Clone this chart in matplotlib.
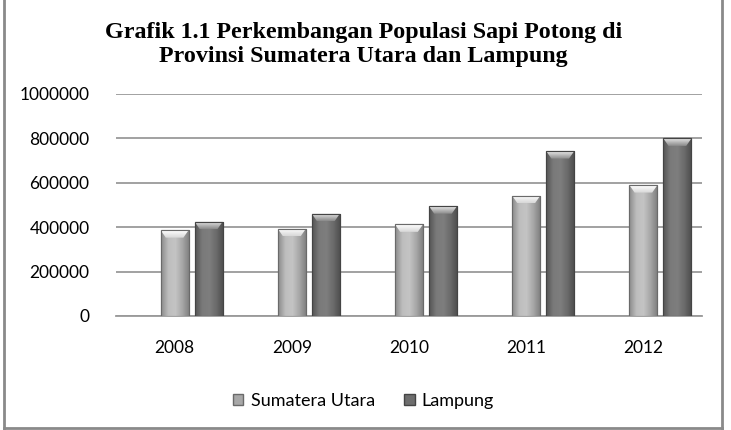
import numpy as np
import matplotlib.pyplot as plt
from matplotlib.colors import LinearSegmentedColormap
from matplotlib.patches import Polygon, Patch
from matplotlib.lines import Line2D

tahun = ['2008', '2009', '2010', '2011', '2012']
sumut = [387000, 393000, 413000, 542000, 590000]
lampung = [425000, 461000, 495000, 743000, 800000]
yticks = [0, 200000, 400000, 600000, 800000, 1000000]

fig = plt.figure(figsize=(7.31, 4.30), dpi=100)
ax = fig.add_axes([116 / 731, 1 - 316 / 430, 586 / 731, 222 / 430])

x = np.arange(len(tahun))
w = 0.24
gap = 0.29

# horizontal shading like the old excel bevel bars
cm_sumut = LinearSegmentedColormap.from_list('s', ['#8a8a8a', '#bdbdbd', '#c4c4c4', '#a6a6a6', '#7c7c7c'])
cm_lamp = LinearSegmentedColormap.from_list('l', ['#555555', '#7a7a7a', '#7e7e7e', '#6a6a6a', '#4c4c4c'])
cm_cap = LinearSegmentedColormap.from_list('c', ['#ffffff', '#d8d8d8'])
cm_cap2 = LinearSegmentedColormap.from_list('c2', ['#e8e8e8', '#8a8a8a'])
grad = np.linspace(0, 1, 64).reshape(1, -1)
vgrad = np.linspace(0, 1, 32).reshape(-1, 1)

b1 = ax.bar(x, sumut, w, color='#a8a8a8', edgecolor='#6a6a6a', linewidth=0.8, zorder=3)
b2 = ax.bar(x + gap, lampung, w, color='#6e6e6e', edgecolor='#444444', linewidth=0.8, zorder=3)

cap_h = 34000
cap_d = 0.045
for bars, cm, cc in [(b1, cm_sumut, cm_cap), (b2, cm_lamp, cm_cap2)]:
    for p in bars:
        x0, bw, h = p.get_x(), p.get_width(), p.get_height()
        im = ax.imshow(grad, extent=[x0, x0 + bw, 0, h], aspect='auto', cmap=cm, zorder=3.5)
        im.set_clip_path(p)
        cap = Polygon([[x0, h], [x0 + bw, h], [x0 + bw - cap_d, h - cap_h], [x0 + cap_d, h - cap_h]],
                      closed=True, facecolor='none', edgecolor='none', zorder=4)
        ax.add_patch(cap)
        im2 = ax.imshow(vgrad, extent=[x0, x0 + bw, h - cap_h, h], aspect='auto', cmap=cc, zorder=4)
        im2.set_clip_path(cap)
        ax.add_patch(Polygon([[x0, h], [x0 + bw, h], [x0 + bw, 0], [x0, 0]], closed=True,
                             facecolor='none', edgecolor=p.get_edgecolor(), linewidth=0.8, zorder=5))

ax.set_xlim(-0.5, 4.5)
ax.set_ylim(0, 1000000)
ax.set_yticks(yticks)
ax.set_yticklabels([str(v) for v in yticks], fontfamily='Lato', fontsize=12.5)
ax.set_xticks(x)
ax.set_xticklabels(tahun, fontfamily='Lato', fontsize=12.5)
ax.tick_params(axis='y', length=0, pad=19)
ax.tick_params(axis='x', length=0, pad=17)
ax.grid(axis='y', color='#9a9a9a', linewidth=1.3, zorder=1)
ax.set_axisbelow(True)
for s in ['top', 'right', 'left']:
    ax.spines[s].set_visible(False)
ax.spines['bottom'].set_color('#9a9a9a')
ax.spines['bottom'].set_linewidth(1.3)

fig.text(0.497, 0.897, 'Grafik 1.1 Perkembangan Populasi Sapi Potong di\nProvinsi Sumatera Utara dan Lampung',
         ha='center', va='center', fontfamily='Liberation Serif', fontweight='bold', fontsize=17.3,
         linespacing=1.22)

handles = [Patch(facecolor='#a8a8a8', edgecolor='#6a6a6a'), Patch(facecolor='#6e6e6e', edgecolor='#444444')]
fig.legend(handles, ['Sumatera Utara', 'Lampung'], loc='center', bbox_to_anchor=(0.497, 0.068), ncol=2,
           frameon=False, prop={'family': 'Lato', 'size': 13}, handlelength=0.6, handleheight=0.6,
           handletextpad=0.4, columnspacing=1.6)

# frame around the whole chart
fig.add_artist(Line2D([4 / 731, 4 / 731], [0, 1], color='#8a8a8a', linewidth=2))
fig.add_artist(Line2D([722 / 731, 722 / 731], [0, 1], color='#8a8a8a', linewidth=2))
fig.add_artist(Line2D([4 / 731, 722 / 731], [2 / 430, 2 / 430], color='#8a8a8a', linewidth=2))

fig.savefig('out.png', dpi=100)
